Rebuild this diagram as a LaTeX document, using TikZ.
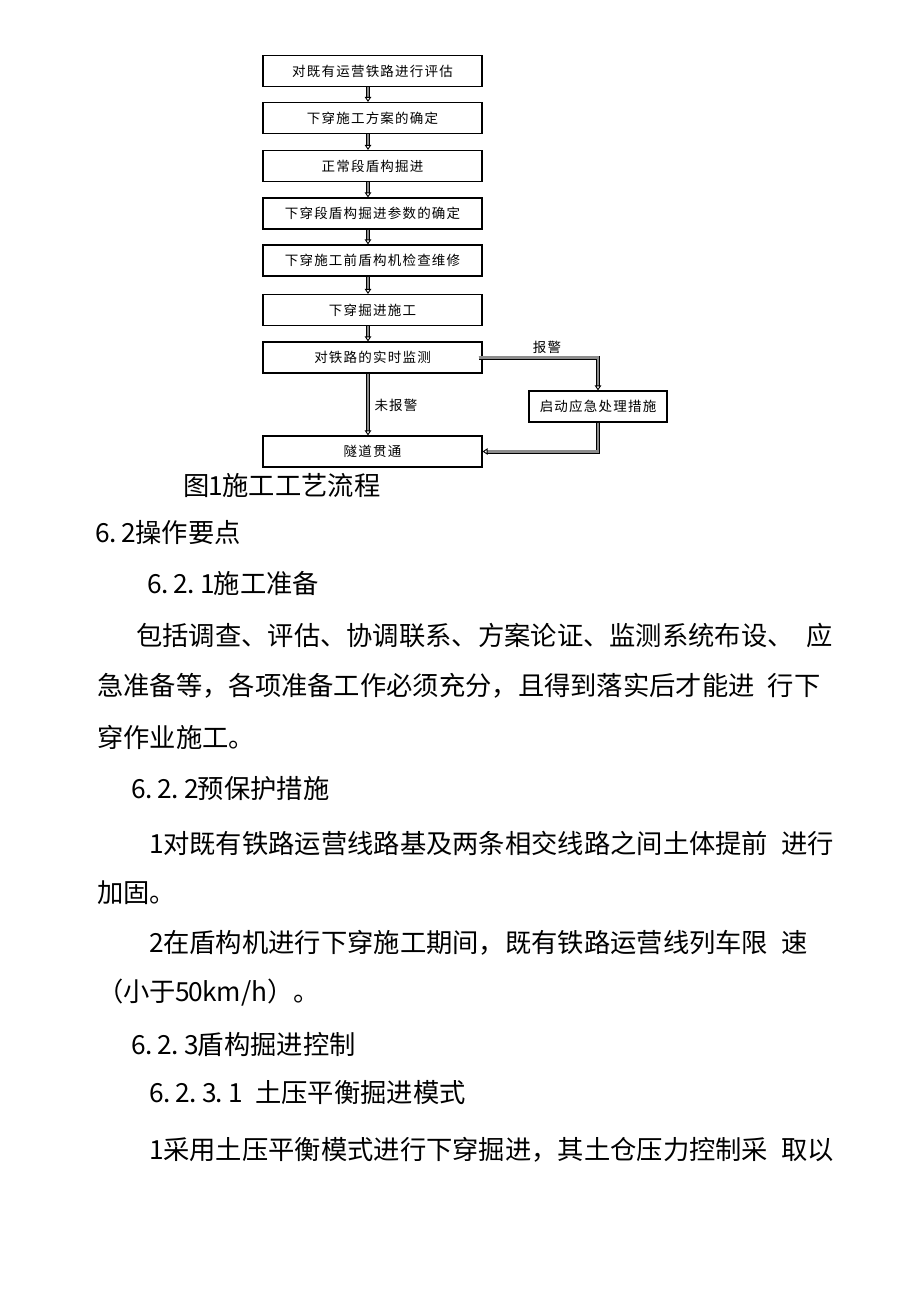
\documentclass[tikz,border=0pt]{standalone}
\usepackage{fontspec}
\setmainfont{Noto Sans CJK SC}
\newfontfamily\cjk{Noto Sans CJK SC}
\newfontfamily\boxfont[LetterSpace=9]{Noto Sans CJK SC}
\usetikzlibrary{arrows.meta}
\newcommand\dg[1]{\makebox[0.5em][c]{#1}}
\newcommand\dt{\makebox[0.5em][l]{.}}
\newcommand\hs{\hspace{0.5em}}
\tikzset{
  box/.style={draw, line width=1.1pt, minimum width=219pt, minimum height=31pt, inner sep=0pt,
    font=\boxfont\fontsize{13.5pt}{15pt}\selectfont},
  lbl/.style={inner sep=0pt, font=\boxfont\fontsize{13.5pt}{15pt}\selectfont},
  flow/.style={draw=black, line width=0.9pt, double=black!45, double distance=2.2pt,
    -{Triangle[open, length=5pt, width=6.5pt]}},
  para/.style={anchor=west, inner sep=0pt, font=\cjk\fontsize{26.3pt}{30pt}\selectfont}
}
\begin{document}
\begin{tikzpicture}[x=1pt,y=-1pt]
\useasboundingbox[fill=white] (0,0) rectangle (920,1301);
% flow chart boxes
\node[box] (b1) at (372.5,71) {对既有运营铁路进行评估};
\node[box] (b2) at (372.5,118) {下穿施工方案的确定};
\node[box] (b3) at (372.5,166) {正常段盾构掘进};
\node[box] (b4) at (372.5,213.5) {下穿段盾构掘进参数的确定};
\node[box] (b5) at (372.5,260.5) {下穿施工前盾构机检查维修};
\node[box] (b6) at (372.5,310) {下穿掘进施工};
\node[box] (b7) at (372.5,357.5) {对铁路的实时监测};
\node[box] (b8) at (372.5,451.5) {隧道贯通};
\node[box, minimum width=138pt] (w) at (598,406.5) {启动应急处理措施};
\coordinate (col) at (368,0);
% connectors
\draw[flow] (b1.south -| col) -- (b2.north -| col);
\draw[flow] (b2.south -| col) -- (b3.north -| col);
\draw[flow] (b3.south -| col) -- (b4.north -| col);
\draw[flow] (b4.south -| col) -- (b5.north -| col);
\draw[flow] (b5.south -| col) -- (b6.north -| col);
\draw[flow] (b6.south -| col) -- (b7.north -| col);
\draw[flow] (b7.south -| col) -- (b8.north -| col);
\draw[flow] ([xshift=-4pt]b7.east) -| (w.north);
\draw[flow] (w.south) |- (b8.east);
\node[lbl] (alarm) at (547,347) {报警};
\node[lbl] (noalarm) at (396,405) {未报警};
% text
\node[para] (cap) at (183,485) {图\dg{1}施工工艺流程};
\node[para] (h62) at (96,533) {\dg{6}\dt\dg{2}操作要点};
\node[para] (h621) at (148,583) {\dg{6}\dt\dg{2}\dt\dg{1}施工准备};
\node[para] (p1) at (136,635) {包括调查、评估、协调联系、方案论证、监测系统布设、\hs 应};
\node[para] (p2) at (97,686) {急准备等，各项准备工作必须充分，且得到落实后才能进\hs 行下};
\node[para] (p3) at (97,737) {穿作业施工。};
\node[para] (h622) at (132,789) {\dg{6}\dt\dg{2}\dt\dg{2}预保护措施};
\node[para] (p4) at (150,843) {\dg{1}对既有铁路运营线路基及两条相交线路之间土体提前\hs 进行};
\node[para] (p5) at (97,893) {加固。};
\node[para] (p6) at (150,943) {\dg{2}在盾构机进行下穿施工期间，既有铁路运营线列车限\hs 速};
\node[para] (p7) at (97,993) {（小于\dg{5}\dg{0}km/h）。};
\node[para] (h623) at (132,1045) {\dg{6}\dt\dg{2}\dt\dg{3}盾构掘进控制};
\node[para] (h6231) at (150,1093) {\dg{6}\dt\dg{2}\dt\dg{3}\dt\dg{1}\hs 土压平衡掘进模式};
\node[para] (p8) at (150,1150) {\dg{1}采用土压平衡模式进行下穿掘进，其土仓压力控制采\hs 取以};
\end{tikzpicture}
\end{document}
